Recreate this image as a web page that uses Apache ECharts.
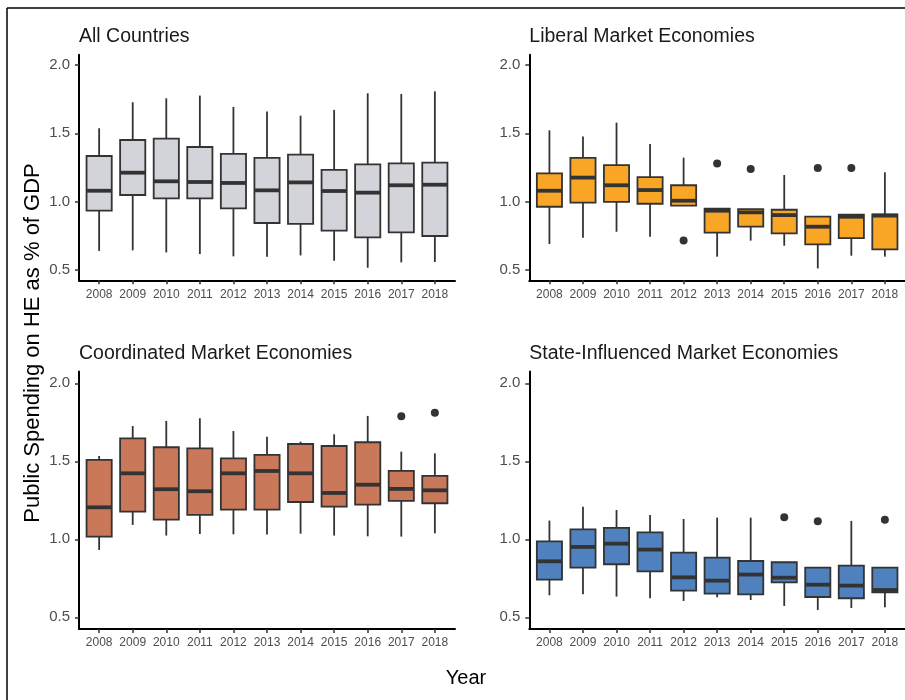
<!DOCTYPE html>
<html>
<head>
<meta charset="utf-8">
<title>Public Spending on HE as % of GDP</title>
<script src="https://cdn.jsdelivr.net/npm/echarts@6/dist/echarts.min.js"></script>
<style>
  html, body { margin: 0; padding: 0; background: #ffffff; }
  #chart { width: 905px; height: 700px; }
</style>
</head>
<body>
<div id="chart"></div>
<script>
// Years on the horizontal axis of every panel
const years = ['2008', '2009', '2010', '2011', '2012', '2013', '2014', '2015', '2016', '2017', '2018'];

// Box statistics per year: [lower whisker, Q1, median, Q3, upper whisker]
const allCountries = [
  [0.640, 0.934, 1.080, 1.334, 1.537],
  [0.644, 1.049, 1.212, 1.451, 1.727],
  [0.629, 1.024, 1.149, 1.461, 1.756],
  [0.617, 1.024, 1.144, 1.400, 1.776],
  [0.600, 0.951, 1.137, 1.349, 1.693],
  [0.598, 0.844, 1.083, 1.320, 1.659],
  [0.607, 0.837, 1.141, 1.344, 1.629],
  [0.568, 0.788, 1.078, 1.232, 1.671],
  [0.517, 0.739, 1.066, 1.273, 1.793],
  [0.556, 0.776, 1.120, 1.280, 1.788],
  [0.559, 0.749, 1.124, 1.285, 1.807]
];
const allCountriesOutliers = [];

const liberal = [
  [0.690, 0.963, 1.080, 1.207, 1.522],
  [0.737, 0.993, 1.176, 1.320, 1.476],
  [0.780, 0.998, 1.120, 1.268, 1.578],
  [0.744, 0.985, 1.085, 1.180, 1.422],
  [0.968, 0.971, 1.007, 1.120, 1.322],
  [0.598, 0.773, 0.934, 0.949, 0.949],
  [0.715, 0.817, 0.922, 0.946, 0.946],
  [0.678, 0.768, 0.902, 0.941, 1.195],
  [0.512, 0.688, 0.817, 0.890, 0.890],
  [0.605, 0.734, 0.890, 0.905, 0.905],
  [0.598, 0.651, 0.898, 0.907, 1.215]
];
const liberalOutliers = [['2012', 0.717], ['2013', 1.280], ['2014', 1.239], ['2016', 1.246], ['2017', 1.246]];

const coordinated = [
  [0.932, 1.017, 1.205, 1.509, 1.534],
  [1.092, 1.177, 1.423, 1.647, 1.726],
  [1.024, 1.126, 1.321, 1.590, 1.759],
  [1.034, 1.156, 1.308, 1.583, 1.776],
  [1.032, 1.190, 1.423, 1.519, 1.694],
  [1.030, 1.190, 1.438, 1.541, 1.658],
  [1.036, 1.239, 1.423, 1.611, 1.626],
  [1.024, 1.209, 1.297, 1.598, 1.673],
  [1.019, 1.222, 1.350, 1.622, 1.791],
  [1.017, 1.246, 1.323, 1.438, 1.562],
  [1.038, 1.231, 1.314, 1.406, 1.551]
];
const coordinatedOutliers = [['2017', 1.788], ['2018', 1.812]];

const stateInfluenced = [
  [0.641, 0.741, 0.859, 0.987, 1.120],
  [0.647, 0.818, 0.951, 1.064, 1.209],
  [0.633, 0.840, 0.972, 1.073, 1.188],
  [0.622, 0.795, 0.934, 1.045, 1.156],
  [0.605, 0.671, 0.756, 0.915, 1.130],
  [0.628, 0.652, 0.735, 0.882, 1.139],
  [0.611, 0.647, 0.774, 0.861, 1.139],
  [0.573, 0.724, 0.754, 0.853, 0.853],
  [0.547, 0.630, 0.709, 0.818, 0.818],
  [0.560, 0.622, 0.703, 0.831, 1.118],
  [0.564, 0.660, 0.675, 0.818, 0.818]
];
const stateInfluencedOutliers = [['2015', 1.141], ['2016', 1.115], ['2018', 1.126]];

// Y tick labels shared by all panels
const yTicks = [0.5, 1.0, 1.5, 2.0];

const panelTitles = ['All Countries', 'Liberal Market Economies', 'Coordinated Market Economies', 'State-Influenced Market Economies'];
const panelStats = [allCountries, liberal, coordinated, stateInfluenced];
const panelOutliers = [allCountriesOutliers, liberalOutliers, coordinatedOutliers, stateInfluencedOutliers];
const panelColors = ['#D3D4D9', '#F9A627', '#C9785A', '#4F81BF'];

const FONT = '"Liberation Sans", Arial, Helvetica, sans-serif';
const INK = '#333333';

const grids = [
  { left: 79,    top: 54.7,  width: 376, height: 225.6 },
  { left: 529.3, top: 54.7,  width: 376, height: 225.6 },
  { left: 79,    top: 371.6, width: 376, height: 257.4 },
  { left: 529.3, top: 371.6, width: 376, height: 257.4 }
];

const xPositions = years.map((_, i) => i + 1);

function makeXAxis(gi) {
  return {
    type: 'value', gridIndex: gi, min: 0.4, max: 11.6,
    axisLine: { show: true, lineStyle: { color: '#000000', width: 2 } },
    axisTick: { show: true, customValues: xPositions, length: 4, lineStyle: { color: INK, width: 1.5 } },
    axisLabel: {
      customValues: xPositions, margin: 8,
      formatter: v => years[Math.round(v) - 1] || '',
      color: '#4D4D4D', fontSize: 12, fontFamily: FONT
    },
    splitLine: { show: false }
  };
}

function makeYAxis(gi) {
  return {
    type: 'value', gridIndex: gi, min: 0.425, max: 2.075,
    axisLine: { show: true, lineStyle: { color: '#000000', width: 2 } },
    axisTick: { show: true, customValues: yTicks, length: 4, lineStyle: { color: INK, width: 1.5 } },
    axisLabel: {
      customValues: yTicks, margin: 9,
      formatter: v => v.toFixed(1),
      color: '#4D4D4D', fontSize: 15, fontFamily: FONT
    },
    splitLine: { show: false }
  };
}

// Box, whiskers and a thick median bar drawn on the panel's own scales
function boxRenderer(fill) {
  return function (params, api) {
    const x = api.value(0);
    const lo = api.coord([x, api.value(1)]);
    const q1 = api.coord([x, api.value(2)]);
    const md = api.coord([x, api.value(3)]);
    const q3 = api.coord([x, api.value(4)]);
    const hi = api.coord([x, api.value(5)]);
    const half = api.size([0.75, 0])[0] / 2;
    return {
      type: 'group',
      children: [
        { type: 'line', shape: { x1: hi[0], y1: hi[1], x2: q3[0], y2: q3[1] }, style: { stroke: INK, lineWidth: 1.8 } },
        { type: 'line', shape: { x1: q1[0], y1: q1[1], x2: lo[0], y2: lo[1] }, style: { stroke: INK, lineWidth: 1.8 } },
        { type: 'rect', shape: { x: q3[0] - half, y: q3[1], width: half * 2, height: q1[1] - q3[1] }, style: { fill: fill, stroke: INK, lineWidth: 1.8 } },
        { type: 'line', shape: { x1: md[0] - half, y1: md[1], x2: md[0] + half, y2: md[1] }, style: { stroke: INK, lineWidth: 3.8 } }
      ]
    };
  };
}

const series = [];
panelStats.forEach((stats, gi) => {
  series.push({
    type: 'custom',
    xAxisIndex: gi, yAxisIndex: gi,
    renderItem: boxRenderer(panelColors[gi]),
    encode: { x: 0, y: [1, 2, 3, 4, 5] },
    data: stats.map((s, i) => [xPositions[i]].concat(s)),
    silent: true,
    z: 2
  });
  series.push({
    type: 'scatter',
    xAxisIndex: gi, yAxisIndex: gi,
    symbol: 'circle', symbolSize: 8,
    itemStyle: { color: INK, opacity: 1 },
    data: panelOutliers[gi].map(o => [years.indexOf(o[0]) + 1, o[1]]),
    silent: true,
    z: 3
  });
});

const titles = panelTitles.map((t, i) => ({
  text: t,
  left: grids[i].left - 5,
  top: i < 2 ? 22 : 339,
  textStyle: { color: '#1A1A1A', fontSize: 19.5, fontWeight: 'normal', fontFamily: FONT }
}));

const chart = echarts.init(document.getElementById('chart'), null, { renderer: 'canvas' });
chart.setOption({
  animation: false,
  backgroundColor: '#ffffff',
  title: titles,
  grid: grids,
  xAxis: grids.map((_, i) => makeXAxis(i)),
  yAxis: grids.map((_, i) => makeYAxis(i)),
  series: series,
  graphic: [
    { type: 'line', shape: { x1: 7, y1: 8, x2: 905, y2: 8 }, style: { stroke: '#000000', lineWidth: 1.5 } },
    { type: 'line', shape: { x1: 7, y1: 8, x2: 7, y2: 700 }, style: { stroke: '#000000', lineWidth: 1.5 } },
    {
      type: 'text', x: 33, y: 343, rotation: Math.PI / 2,
      style: { text: 'Public Spending on HE as % of GDP', fill: '#000000', font: '22px ' + FONT, textAlign: 'center', textVerticalAlign: 'middle' }
    },
    {
      type: 'text', x: 466, y: 678,
      style: { text: 'Year', fill: '#000000', font: '20px ' + FONT, textAlign: 'center', textVerticalAlign: 'middle' }
    }
  ]
});
</script>
</body>
</html>
